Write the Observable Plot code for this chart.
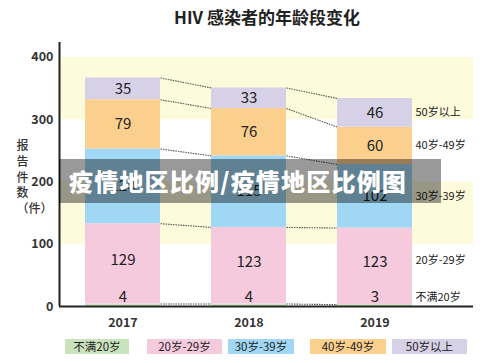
<!DOCTYPE html>
<html><head><meta charset="utf-8">
<script src="https://cdn.jsdelivr.net/npm/d3@7"></script>
<script src="https://cdn.jsdelivr.net/npm/@observablehq/plot@0.6"></script>
<style>
body{margin:0;background:#fff;font-family:"Noto Sans CJK SC","Noto Sans",sans-serif;}
#wrap{position:relative;width:500px;height:363px;}
#title{height:34px;line-height:34px;text-align:center;padding-left:34px;font-size:17px;font-weight:bold;color:#222;box-sizing:border-box;}
#legend{position:absolute;top:339px;left:0;width:500px;height:15px;}
#legend span{position:absolute;top:0;height:15px;line-height:15px;font-size:11.5px;text-align:center;color:#222;}
#banner{position:absolute;left:59px;top:159px;width:382px;height:44px;background:rgba(0,0,0,0.4);color:#fff;font-weight:900;font-size:24px;line-height:44px;padding-left:10px;box-sizing:border-box;white-space:nowrap;letter-spacing:1.2px;}
</style></head>
<body>
<div id="wrap">
<div id="title">HIV 感染者的年龄段变化</div>
<div id="chart"></div>
<div id="legend"></div>
<div id="banner">疫情地区比例/疫情地区比例图</div>
</div>
<script>
const years = [2017, 2018, 2019];
const categories = ["不满20岁", "20岁-29岁", "30岁-39岁", "40岁-49岁", "50岁以上"];
const colors = ["#c9e4bc", "#f6cadd", "#a0d7f4", "#fbd08f", "#d6d1e7"];
const values = {
  "不满20岁": [4, 4, 3],
  "20岁-29岁": [129, 123, 123],
  "30岁-39岁": [120, 115, 102],
  "40岁-49岁": [79, 76, 60],
  "50岁以上": [35, 33, 46]
};
const yTicks = [0, 100, 200, 300, 400];
const bandRanges = [[100, 200], [300, 400]];

const half = 0.2976; // half bar width in year units
const xDomain = [2016.496, 2019.782];

const rows = [];
years.forEach((yr, j) => {
  let acc = 0;
  categories.forEach((c, k) => {
    const v = values[c][j];
    rows.push({year: yr, cat: c, k, v, y1: acc, y2: acc + v});
    acc += v;
  });
});
const links = [];
for (let j = 0; j < years.length - 1; j++) {
  categories.forEach((c, k) => {
    const a = rows.find(r => r.year === years[j] && r.k === k);
    const b = rows.find(r => r.year === years[j + 1] && r.k === k);
    links.push({x1: years[j] + half, x2: years[j + 1] - half, y1: a.y2, y2: b.y2});
  });
}
links.push(...years.slice(0, -1).map((yr, j) => ({x1: yr + half, x2: years[j + 1] - half, y1: 0, y2: 0})));
const last = years[years.length - 1];
const lastRows = rows.filter(r => r.year === last);

const plot = Plot.plot({
  width: 500, height: 301,
  marginLeft: 59, marginRight: 27, marginTop: 8, marginBottom: 29,
  style: {fontFamily: '"Noto Sans CJK SC","Noto Sans",sans-serif', background: "transparent"},
  x: {type: "linear", domain: xDomain, ticks: years, tickFormat: d => String(d)},
  y: {domain: [0, 424], ticks: yTicks},
  color: {domain: categories, range: colors},
  marks: [
    Plot.rectY(bandRanges, {y1: d => d[0], y2: d => d[1], fill: "#fefbdc"}),
    Plot.link(links, {x1: "x1", x2: "x2", y1: "y1", y2: "y2", stroke: "#555", strokeWidth: 1.1, strokeDasharray: "1.5,1"}),
    Plot.rectY(rows, {x1: d => d.year - half, x2: d => d.year + half, y1: "y1", y2: "y2", fill: "cat"}),
    Plot.text(rows.filter(r => r.k >= 2), {x: "year", y: d => (d.y1 + d.y2) / 2, text: d => String(d.v), fontSize: 15, fill: "#222"}),
    Plot.text(rows.filter(r => r.k === 1), {x: "year", y: d => (d.y1 + d.y2) / 2, dy: -4, text: d => String(d.v), fontSize: 15, fill: "#222"}),
    Plot.text(rows.filter(r => r.k === 0), {x: "year", y: 0, dy: -9, text: d => String(d.v), fontSize: 15, fill: "#222"}),
    Plot.text(lastRows.filter(r => r.k >= 2), {x: () => last + half, y: d => (d.y1 + d.y2) / 2, dx: 3, textAnchor: "start", text: "cat", fontSize: 11, fill: "#222"}),
    Plot.text(lastRows.filter(r => r.k === 1), {x: () => last + half, y: d => (d.y1 + d.y2) / 2, dx: 3, dy: -6, textAnchor: "start", text: "cat", fontSize: 11, fill: "#222"}),
    Plot.text(lastRows.filter(r => r.k === 0), {x: () => last + half, y: 0, dx: 3, dy: -9, textAnchor: "start", text: "cat", fontSize: 11, fill: "#222"}),
    Plot.axisY({ticks: yTicks, tickSize: 0, tickPadding: 6, label: null, fontSize: 12.5, fill: "#333", fontWeight: 600}),
    Plot.axisX({ticks: years, tickSize: 0, tickPadding: 12, label: null, tickFormat: d => String(d), fontSize: 12.5, fill: "#333", fontWeight: 600}),
    Plot.ruleY([0], {stroke: "#222", strokeWidth: 2}),
    Plot.ruleX([xDomain[0]], {stroke: "#222", strokeWidth: 2}),
    Plot.text(["报\n告\n件\n数\n（件）"], {frameAnchor: "left", dx: -43, dy: 2, text: d => d, fontSize: 12, lineHeight: 1.3, fill: "#333", fontWeight: 500})
  ]
});
document.getElementById("chart").appendChild(plot);

const legendPos = [[65, 64], [147, 75], [228, 66], [310, 76], [392, 75]];
const lg = document.getElementById("legend");
categories.forEach((c, i) => {
  const s = document.createElement("span");
  s.textContent = c;
  s.style.left = legendPos[i][0] + "px";
  s.style.width = legendPos[i][1] + "px";
  s.style.background = colors[i];
  lg.appendChild(s);
});
</script>
</body></html>
